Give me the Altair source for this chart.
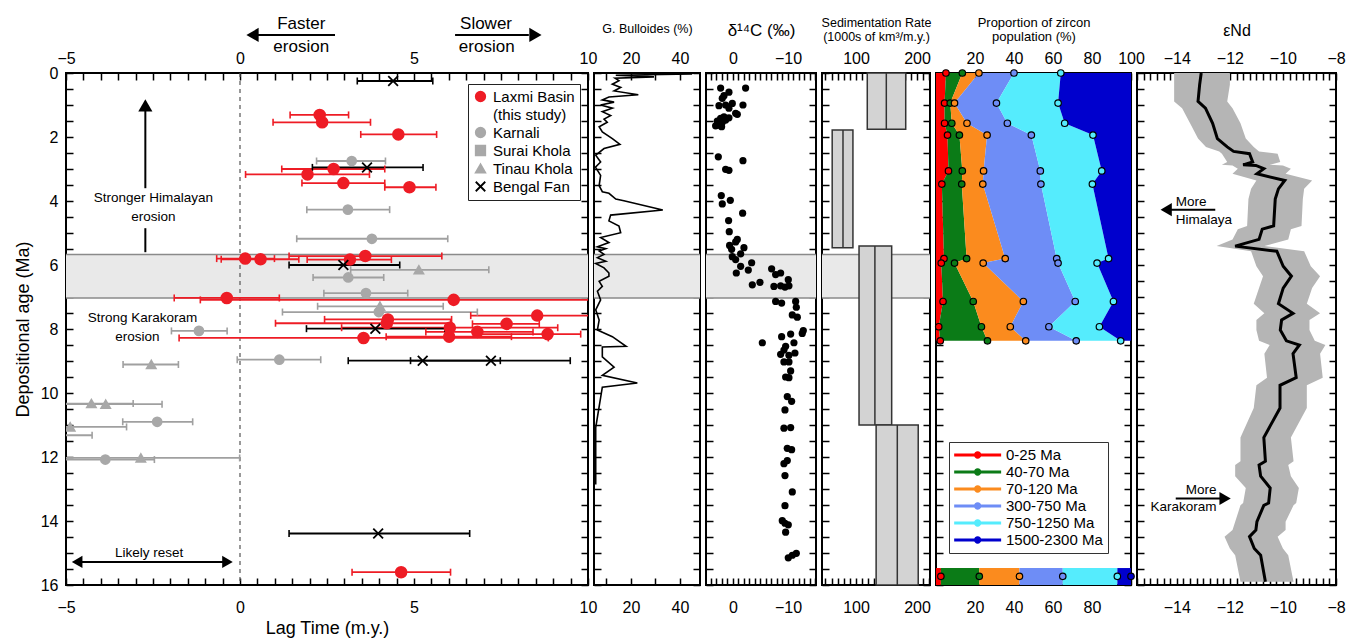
import altair as alt
import pandas as pd

FONT = "Liberation Sans"
H = 512
W = [522, 106, 110, 108, 195, 199]

BAND = [5.67, 7.03]

# ---------------- Panel 1: lag time ----------------
LT_SRC = (["Karnali"] * 10 + ["Tinau Khola"] * 7 + ["Surai Khola"] + ["Laxmi Basin"] * 23 + ["Bengal Fan"] * 7)
LT_AGE = [2.75, 4.27, 5.18, 6.39, 6.88, 7.47, 8.06, 8.96, 10.90, 12.08,
          6.15, 7.29, 9.11, 10.33, 10.35, 11.06, 12.03,
          11.32,
          1.31, 1.54, 1.92, 3.00, 3.17, 3.44, 3.57, 5.80, 5.82, 5.72, 5.83, 7.03, 7.09, 7.58, 7.70, 7.82,
          7.84, 7.96, 8.09, 8.24, 8.16, 8.28, 15.60,
          0.25, 2.95, 6.00, 7.99, 8.99, 8.99, 14.39]
LT_LAG = [3.21, 3.10, 3.79, 3.11, 3.62, 3.99, -1.18, 1.13, -2.38, -3.87,
          5.14, 4.02, -2.55, -4.27, -3.86, -4.88, -2.85,
          -5.6,
          2.29, 2.36, 4.55, 2.69, 1.94, 2.97, 4.87, 0.15, 0.59, 3.60, 3.16, -0.38, 6.14, 8.54, 4.25, 4.22,
          7.66, 6.03, 6.82, 6.01, 8.84, 3.55, 4.63,
          4.40, 3.65, 2.97, 3.89, 5.25, 7.21, 3.97]
LT_LO = [2.20, 1.92, 1.63, 2.10, 2.41, 1.22, -1.97, -0.08, -3.37, -5.50,
         3.18, 2.23, -3.36, -5.50, -5.50, -5.50, -5.50,
         -6.50,
         1.44, 0.95, 3.47, 1.20, 0.16, 1.78, 4.16, -0.67, -0.54, 1.41, 1.93, -1.89, -1.14, 6.63, 2.43, 1.02,
         6.68, 2.92, 5.34, 4.20, 6.71, -1.75, 3.22,
         3.37, 2.08, 1.41, 1.91, 3.11, 4.90, 1.41]
LT_HI = [4.18, 4.30, 5.97, 4.13, 4.82, 6.82, -0.37, 2.32, -1.36, -2.46,
         7.15, 5.84, -1.77, -3.07, -2.24, -3.26, -0.01,
         -4.25,
         3.12, 3.75, 5.65, 4.16, 3.72, 4.16, 5.63, 0.99, 1.69, 5.80, 4.35, 1.13, 10.50, 10.50, 6.08, 6.05,
         8.60, 9.13, 8.42, 7.80, 9.79, 8.86, 6.05,
         5.54, 5.26, 4.59, 5.89, 7.48, 9.49, 6.60]

SRC_DOM = ["Laxmi Basin", "(this study)", "Karnali", "Surai Khola", "Tinau Khola", "Bengal Fan"]
RED = "#ee1c25"
GREY = "#a8a8a8"
SRC_COL = [RED, "transparent", GREY, GREY, GREY, "black"]
XPATH = "M-1,-1L1,1M1,-1L-1,1"
SRC_SHAPE = ["circle", "circle", "circle", "square", "triangle-up", XPATH]
SRC_SIZE = {"Laxmi Basin": 115, "Karnali": 80, "Surai Khola": 70, "Tinau Khola": 80, "Bengal Fan": 95}
ERR_COL = {"Laxmi Basin": RED, "Karnali": "#a0a0a0", "Surai Khola": "#a0a0a0", "Tinau Khola": "#a0a0a0",
           "Bengal Fan": "black"}

# ---------------- Panel 2: G. bulloides ----------------
BUL_AGE = [0.03, 0.07, 0.12, 0.16, 0.24, 0.35, 0.45, 0.56, 0.68, 0.75, 0.84, 0.91, 1.00, 1.10, 1.21, 1.33,
           1.44, 1.54, 1.68, 1.84, 2.05, 2.23, 2.36, 2.57, 2.78, 2.94, 3.20, 3.52, 3.71, 3.76, 3.94, 3.99,
           4.28, 4.44, 4.62, 4.78, 4.99, 5.14, 5.30, 5.43, 5.49, 5.56, 5.67, 5.77, 5.88, 5.95, 6.09, 6.25,
           6.35, 6.51, 6.67, 6.82, 7.09, 7.40, 7.72, 8.03, 8.24, 8.54, 8.56, 8.87, 9.19, 9.45, 9.69, 9.82,
           11.08, 11.23, 12.86]
BUL_VAL = [45.0, 13.8, 29.4, 13.5, 15.1, 12.4, 15.8, 13.1, 23.0, 11.0, 8.3, 13.1, 7.6, 12.4, 8.3, 11.7,
           9.0, 10.3, 7.0, 8.3, 12.4, 15.5, 9.0, 5.6, 7.6, 5.5, 7.6, 7.0, 8.3, 11.0, 13.8, 17.1,
           33.0, 11.7, 11.0, 15.1, 15.8, 7.6, 11.0, 6.3, 9.7, 7.0, 9.0, 6.3, 9.7, 5.6, 9.0, 11.0,
           11.0, 7.0, 8.3, 6.3, 7.6, 5.6, 7.0, 6.3, 12.4, 18.0, 8.3, 8.3, 13.1, 8.3, 22.6, 8.3,
           5.6, 5.6, 5.6]

# ---------------- Panel 3: carbon isotopes ----------------
C_AGE = [0.47, 0.47, 0.60, 0.71, 0.79, 1.02, 1.00, 0.95, 1.00, 1.10, 1.26, 1.29, 1.37, 1.42, 1.40, 1.50,
         1.54, 1.47, 1.63, 1.65, 1.68, 2.62, 2.74, 3.01, 3.04, 3.83, 3.98, 4.09, 4.38, 4.61, 4.96, 5.20,
         5.28, 5.39, 5.46, 5.51, 5.65, 5.74, 5.83, 5.93, 6.04, 6.25, 6.16, 6.12, 6.25, 6.30, 6.46, 6.62,
         6.54, 6.67, 6.65, 6.65, 6.69, 7.14, 7.19, 7.14, 7.32, 7.56, 7.63,
         8.43, 8.24, 8.16, 8.14, 8.05, 8.54, 8.43, 8.79, 8.66, 8.82, 8.75, 9.03, 9.03, 9.31, 9.50, 9.52,
         10.11, 10.26, 10.53, 11.10, 11.08, 11.73, 11.77, 12.11, 12.21, 12.58, 13.09, 13.52, 13.99, 14.07,
         14.12, 14.35, 15.15, 15.07, 15.01]
C_VAL = [2.24, -2.30, 0.73, 1.63, 1.94, 2.54, 1.33, 0.12, -1.82, 0.73, -0.49, -0.79, 1.63, 2.24, 0.73, 2.85,
         1.94, 1.33, 2.54, 3.15, 2.06, 2.66, -1.82, 1.33, 0.73, 2.12, 0.48, 1.94, -1.76, 0.79, 0.67, -0.79,
         -0.49, 0.61, -2.00, 0.24, -1.40, 0.12, -0.49, -3.40, -1.40, -0.61, -2.79, -7.03, -8.67, -7.76, -10.06, -3.52,
         -4.91, -7.45, -8.67, -10.18, -9.46, -7.76, -8.85, -11.40, -11.52, -10.79, -11.70,
         -5.34, -8.85, -10.49, -12.60, -12.79, -9.58, -11.09, -8.67, -9.27, -10.18, -11.27, -9.27, -10.18, -10.49, -9.58, -10.18,
         -9.88, -10.67, -9.46, -9.27, -10.49, -9.88, -10.67, -9.88, -9.27, -9.46, -10.79, -9.46, -8.97, -9.46,
         -10.06, -9.58, -10.06, -10.79, -11.52]

# ---------------- Panel 4: sedimentation rate ----------------
SED_TOP = [0.0, 1.78, 5.41, 11.0]
SED_BOT = [1.76, 5.46, 11.0, 16.0]
SED_LO = [118.5, 61.0, 105.0, 133.0]
SED_HI = [181.5, 95.0, 158.5, 202.0]
SED_MID = [149.7, 78.7, 131.0, 167.7]

# ---------------- Panel 5: zircon populations (cumulative %) ----------------
GRPS = ["0-25 Ma", "40-70 Ma", "70-120 Ma", "300-750 Ma", "750-1250 Ma", "1500-2300 Ma"]
GCOL = ["#ff0000", "#0b7b17", "#fb8b1e", "#6e8df6", "#55ecfd", "#0000cd"]
Z_AGE = [0.0, 0.94, 1.57, 1.94, 3.06, 3.47, 5.80, 5.94, 7.14, 7.93, 8.37]
Z_C1 = [5.1, 4.4, 4.4, 5.9, 6.4, 3.0, 4.1, 2.7, 3.6, 1.4, 2.2]
Z_C2 = [13.5, 7.3, 8.1, 12.0, 13.5, 13.2, 15.7, 9.5, 19.1, 23.3, 26.4]
Z_C3 = [22.0, 9.5, 15.9, 26.2, 24.4, 24.0, 35.5, 24.2, 44.8, 38.1, 46.0]
Z_C4 = [40.0, 31.0, 36.6, 48.9, 53.5, 53.8, 61.9, 62.6, 71.4, 57.9, 71.9]
Z_C5 = [64.0, 62.6, 66.0, 80.5, 85.0, 80.2, 88.5, 82.6, 91.0, 83.8, 94.7]
ZB_AGE = 15.73
ZB_TOP = 15.47
ZB_C = [2.5, 22.2, 42.8, 65.0, 93.0]

# ---------------- Panel 6: eNd ----------------
ND_AGE = [0.00, 0.37, 0.89, 1.10, 1.57, 2.05, 2.31, 2.45, 2.52, 2.78, 2.87, 2.89, 2.99, 3.15, 3.36, 3.62,
          3.94, 4.78, 4.88, 5.20, 5.41, 5.57, 6.04, 6.35, 6.72, 7.21, 7.51, 7.72, 8.03, 8.37, 8.50, 8.77,
          9.52, 9.76, 10.47, 11.39, 12.13, 12.25, 12.60, 12.97, 13.44, 13.51, 14.02, 14.28, 14.49, 14.86,
          15.07, 15.90]
ND_VAL = [-13.08, -13.14, -13.20, -12.92, -12.65, -12.47, -12.10, -11.86, -11.26, -11.14, -11.50, -11.02,
          -10.72, -10.98, -9.93, -10.17, -10.29, -10.35, -10.78, -10.90, -11.80, -10.23, -9.99, -9.68, -9.99,
          -10.17, -9.62, -10.05, -10.10, -9.87, -9.38, -9.62, -9.50, -10.11, -10.11, -10.72, -10.66, -10.90,
          -10.84, -10.48, -10.54, -10.72, -10.98, -11.02, -11.26, -11.08, -10.84, -10.66]
ND_LO = [-14.1, -14.1, -14.1, -13.8, -13.5, -13.2, -12.9, -12.4, -12.3, -12.1, -12.3, -11.9, -11.7, -11.9,
         -11.0, -11.2, -11.3, -11.35, -11.7, -11.9, -12.5, -11.2, -11.0, -10.75, -10.9, -11.1, -10.7, -11.0,
         -11.0, -10.9, -10.5, -10.7, -10.6, -11.0, -11.1, -11.6, -11.6, -11.8, -11.8, -11.4, -11.5, -11.6,
         -11.8, -11.9, -12.2, -12.0, -11.8, -11.6]
ND_HI = [-12.0, -12.0, -12.1, -11.9, -11.6, -11.4, -11.1, -10.9, -10.2, -10.1, -10.5, -10.0, -9.7, -9.9,
         -8.9, -9.2, -9.25, -9.3, -9.7, -9.8, -10.7, -9.2, -8.95, -8.6, -8.9, -9.1, -8.6, -9.0, -9.0, -8.8,
         -8.4, -8.6, -8.5, -9.1, -9.1, -9.7, -9.6, -9.8, -9.7, -9.4, -9.5, -9.6, -9.9, -9.9, -10.2, -10.0,
         -9.8, -9.6]

# ---------------- scales ----------------
YS = alt.Scale(domain=[0, 16], reverse=True, nice=False, zero=False)
XS = [alt.Scale(domain=[-5, 10], nice=False, zero=False),
      alt.Scale(domain=[4.9, 48.2], nice=False, zero=False),
      alt.Scale(domain=[-15.1, 4.9], reverse=True, nice=False, zero=False),
      alt.Scale(domain=[44.3, 221.3], nice=False, zero=False),
      alt.Scale(domain=[0, 100], nice=False, zero=False),
      alt.Scale(domain=[-15.5, -8.0], nice=False, zero=False)]


def steps(a, b, s):
    n = int(round((b - a) / s))
    return [round(a + i * s, 4) for i in range(n + 1)]


YT = steps(0, 16, 0.5)
XT = [steps(-5, 10, 0.5), [10, 20, 30, 40], steps(-15, 4, 1), steps(50, 220, 10), steps(0, 100, 5),
      steps(-15.5, -8, 0.25)]

BOT_PAD = 14
TOP_PAD = 7


def lab_expr(labs):
    parts = []
    for v in labs:
        s = str(abs(int(v)))
        if v < 0:
            s = "\u2212" + s
        parts.append("abs(datum.value - (%s)) < 0.001 ? '%s'" % (v, s))
    return " : ".join(parts) + " : ''"


def axis(orient, vals, labs=None, lpad=8, title=None, tsize=16, tpad=6, tlh=None):
    a = dict(orient=orient, values=vals, tickSize=7, offset=-7, domain=False, grid=False, ticks=True,
             tickColor="black", tickWidth=1.5, labelFont=FONT, labelFontSize=16, labelColor="black",
             labelOverlap=False, labelFlush=False, labelBound=False)
    if labs is None:
        a["labels"] = False
    else:
        a["labelExpr"] = lab_expr(labs)
        a["labelPadding"] = lpad
    if title is None:
        a["title"] = None
    else:
        a.update(title=title, titleFont=FONT, titleFontSize=tsize, titleFontWeight="normal",
                 titleColor="black", titlePadding=tpad)
        if tlh:
            a["titleLineHeight"] = tlh
    return alt.Axis(**a)


def Y(f):
    return alt.Y(f, scale=YS, axis=None)


def carriers(i, xb, xt, yl, yr):
    dom = XS[i].to_dict()["domain"]
    df = pd.DataFrame({"cx": dom, "cy": [0, 16]})
    base = alt.Chart(df).mark_point(opacity=0)
    c1 = base.encode(x=alt.X("cx:Q", scale=XS[i], axis=xb), y=alt.Y("cy:Q", scale=YS, axis=yl))
    c2 = base.encode(x=alt.X("cx:Q", scale=XS[i], axis=xt), y=alt.Y("cy:Q", scale=YS, axis=yr))
    return [c1, c2]


band_df = pd.DataFrame({"b1": [BAND[0]], "b2": [BAND[1]]})
band_ln = pd.DataFrame({"b": BAND})


def band(w):
    r = alt.Chart(band_df).mark_rect(color="#e9e9e9").encode(
        x=alt.value(0), x2=alt.value(w), y=Y("b1:Q"), y2="b2:Q")
    l = alt.Chart(band_ln).mark_rule(color="#8a8a8a", strokeWidth=1.5).encode(
        x=alt.value(0), x2=alt.value(w), y=Y("b:Q"))
    return [r, l]


YR = axis("right", YT)

# ---------------- Panel 1 build ----------------
lag_df = pd.DataFrame({"src": LT_SRC, "age": LT_AGE, "lag": LT_LAG, "lo": LT_LO, "hi": LT_HI})
lag_df["col"] = lag_df["src"].map(ERR_COL)
lag_df["sz"] = lag_df["src"].map(SRC_SIZE)
X1 = XS[0]

zero_df = pd.DataFrame({"z": [0]})
zero = alt.Chart(zero_df).mark_rule(color="#555555", strokeDash=[4, 4], strokeWidth=1.2).encode(
    x=alt.X("z:Q", scale=X1, axis=None))
ebar = alt.Chart(lag_df).mark_rule(strokeWidth=1.8, clip=True).encode(
    x=alt.X("lo:Q", scale=X1, axis=None), x2="hi:Q", y=Y("age:Q"), stroke=alt.Stroke("col:N", scale=None))
caps = alt.Chart(lag_df).transform_fold(["lo", "hi"], as_=["k", "v"]).mark_tick(
    orient="vertical", size=7, thickness=1.6, opacity=1, clip=True).encode(
    x=alt.X("v:Q", scale=X1, axis=None), y=Y("age:Q"), color=alt.Color("col:N", scale=None))
lg1 = alt.Legend(title=None, orient="none", legendX=402, legendY=11, strokeColor="#222222", padding=5,
                 fillColor="white", labelFont=FONT, labelFontSize=15, labelColor="black", symbolSize=90,
                 symbolStrokeWidth=1.8, rowPadding=1, labelOffset=5)
pts1 = alt.Chart(lag_df).mark_point(opacity=1, strokeWidth=1.8, clip=True).encode(
    x=alt.X("lag:Q", scale=X1, axis=None), y=Y("age:Q"),
    fill=alt.Fill("src:N", scale=alt.Scale(domain=SRC_DOM, range=SRC_COL), legend=lg1),
    stroke=alt.Stroke("src:N", scale=alt.Scale(domain=SRC_DOM, range=SRC_COL), legend=lg1),
    shape=alt.Shape("src:N", scale=alt.Scale(domain=SRC_DOM, range=SRC_SHAPE), legend=lg1),
    size=alt.Size("sz:Q", scale=None))

ann1 = pd.DataFrame({
    "x": [1.76, 1.76, 7.07, 7.09, -2.49, -2.49, -2.8, -2.95, -2.61],
    "y": [-1.53, -0.81, -1.53, -0.81, 3.9, 4.5, 7.67, 8.25, 15.0],
    "t": ["Faster", "erosion", "Slower", "erosion", "Stronger Himalayan", "erosion", "Strong Karakoram",
          "erosion", "Likely reset"],
    "fs": [17, 17, 17, 17, 13.5, 13.5, 13.5, 13.5, 13.5]})
txt1 = alt.Chart(ann1).mark_text(font=FONT, color="black", baseline="middle", align="center").encode(
    x=alt.X("x:Q", scale=X1, axis=None), y=Y("y:Q"), text="t:N", size=alt.Size("fs:Q", scale=None))
arr1 = pd.DataFrame({"x": [0.4, 6.18, -2.72, -2.72, -4.65], "x2": [2.73, 8.3, -2.72, -2.72, -0.4],
                     "y": [-1.19, -1.19, 1.1, 4.85, 15.28], "y2": [-1.19, -1.19, 3.6, 5.6, 15.28]})
lines1 = alt.Chart(arr1).mark_rule(color="black", strokeWidth=2).encode(
    x=alt.X("x:Q", scale=X1, axis=None), x2="x2:Q", y=Y("y:Q"), y2="y2:Q")
head1 = pd.DataFrame({"x": [0.36, 8.49, -2.72, -4.68, -0.36], "y": [-1.19, -1.19, 1.01, 15.28, 15.28],
                      "s": ["triangle-left", "triangle-right", "triangle-up", "triangle-left", "triangle-right"],
                      "sz": [200, 200, 200, 150, 150]})
heads1 = alt.Chart(head1).mark_point(filled=True, color="black", opacity=1).encode(
    x=alt.X("x:Q", scale=X1, axis=None), y=Y("y:Q"), shape=alt.Shape("s:N", scale=None),
    size=alt.Size("sz:Q", scale=None))

c1 = carriers(0,
              axis("bottom", XT[0], [-5, 0, 5, 10], lpad=BOT_PAD, title="Lag Time (m.y.)", tsize=18, tpad=4),
              axis("top", XT[0], [-5, 0, 5, 10], lpad=TOP_PAD),
              axis("left", YT, [0, 2, 4, 6, 8, 10, 12, 14, 16], lpad=8, title="Depositional age (Ma)",
                   tsize=18, tpad=8),
              YR)
p1 = alt.layer(*band(W[0]), zero, ebar, caps, pts1, lines1, heads1, txt1, *c1).resolve_axis(
    x="independent", y="independent").properties(width=W[0], height=H)

# ---------------- Panel 2 build ----------------
bul = pd.DataFrame({"age": BUL_AGE, "v": BUL_VAL})
line2 = alt.Chart(bul).mark_line(color="black", strokeWidth=1.6, clip=True).encode(
    x=alt.X("v:Q", scale=XS[1], axis=None), y=Y("age:Q"), order="age:Q")
c2 = carriers(1, axis("bottom", XT[1], [20, 40], lpad=BOT_PAD),
              axis("top", XT[1], [20, 40], lpad=TOP_PAD, title="G. Bulloides (%)", tsize=12.5, tpad=15),
              axis("left", YT), YR)
p2 = alt.layer(*band(W[1]), line2, *c2).resolve_axis(x="independent", y="independent").properties(
    width=W[1], height=H)

# ---------------- Panel 3 build ----------------
cdf = pd.DataFrame({"age": C_AGE, "v": C_VAL})
pts3 = alt.Chart(cdf).mark_circle(color="black", size=52, opacity=1).encode(
    x=alt.X("v:Q", scale=XS[2], axis=None), y=Y("age:Q"))
c3 = carriers(2, axis("bottom", XT[2], [0, -10], lpad=BOT_PAD),
              axis("top", XT[2], [0, -10], lpad=TOP_PAD, title="δ¹⁴C (‰)", tsize=17, tpad=11),
              axis("left", YT), YR)
p3 = alt.layer(*band(W[2]), pts3, *c3).resolve_axis(x="independent", y="independent").properties(
    width=W[2], height=H)

# ---------------- Panel 4 build ----------------
sdf = pd.DataFrame({"t": SED_TOP, "b": SED_BOT, "lo": SED_LO, "hi": SED_HI, "m": SED_MID})
rect4 = alt.Chart(sdf).mark_rect(fill="#d3d3d3", stroke="#333333", strokeWidth=1.5).encode(
    x=alt.X("lo:Q", scale=XS[3], axis=None), x2="hi:Q", y=Y("t:Q"), y2="b:Q")
mid4 = alt.Chart(sdf).mark_rule(color="#333333", strokeWidth=1.5).encode(
    x=alt.X("m:Q", scale=XS[3], axis=None), y=Y("t:Q"), y2="b:Q")
c4 = carriers(3, axis("bottom", XT[3], [100, 200], lpad=BOT_PAD),
              axis("top", XT[3], [100, 200], lpad=TOP_PAD, title=["Sedimentation Rate", "(1000s of km³/m.y.)"],
                   tsize=12.5, tpad=7, tlh=13.5),
              axis("left", YT), YR)
p4 = alt.layer(*band(W[3]), rect4, mid4, *c4).resolve_axis(x="independent", y="independent").properties(
    width=W[3], height=H)

# ---------------- Panel 5 build ----------------
rows, prow = [], []
for i, a in enumerate(Z_AGE):
    e = [0, Z_C1[i], Z_C2[i], Z_C3[i], Z_C4[i], Z_C5[i], 100]
    for g in range(6):
        rows.append(dict(age=a, grp=GRPS[g], lo=e[g], hi=e[g + 1]))
    for g in range(5):
        prow.append(dict(age=a, v=e[g + 1], col=GCOL[g]))
eb_ = [0] + ZB_C + [100]
srows = [dict(t=ZB_TOP, b=16, lo=eb_[g], hi=eb_[g + 1], col=GCOL[g]) for g in range(6)]
for g in range(6):
    prow.append(dict(age=ZB_AGE, v=eb_[g + 1], col=GCOL[g]))
zdf = pd.DataFrame(rows)
zp = pd.DataFrame(prow)
zs = pd.DataFrame(srows)
LEGPATH = ("M-1,-0.19L5,-0.19L5,0.19L-1,0.19Z"
           "M1.53,0A0.47,0.47 0 1,1 2.47,0A0.47,0.47 0 1,1 1.53,0Z")
lg5 = alt.Legend(title=None, orient="none", legendX=13, legendY=369, strokeColor="#333333", padding=5,
                 fillColor="white", labelFont=FONT, labelFontSize=15, labelColor="black", symbolType=LEGPATH,
                 symbolSize=245, symbolStrokeWidth=0, rowPadding=1, labelOffset=36)
area5 = alt.Chart(zdf).mark_area(orient="horizontal", opacity=1).encode(
    y=Y("age:Q"), x=alt.X("lo:Q", scale=XS[4], axis=None, stack=None), x2="hi:Q",
    fill=alt.Fill("grp:N", scale=alt.Scale(domain=GRPS, range=GCOL), legend=lg5))
strip5 = alt.Chart(zs).mark_rect().encode(
    x=alt.X("lo:Q", scale=XS[4], axis=None), x2="hi:Q", y=Y("t:Q"), y2="b:Q",
    fill=alt.Fill("col:N", scale=None))
pts5 = alt.Chart(zp).mark_point(filled=True, size=42, stroke="black", strokeWidth=1.2, opacity=1).encode(
    x=alt.X("v:Q", scale=XS[4], axis=None), y=Y("age:Q"), fill=alt.Fill("col:N", scale=None))
c5 = carriers(4, axis("bottom", XT[4], [20, 40, 60, 80], lpad=BOT_PAD),
              axis("top", XT[4], [20, 40, 60, 80, 100], lpad=TOP_PAD,
                   title=["Proportion of zircon", "population (%)"], tsize=13, tpad=7, tlh=14),
              axis("left", YT), YR)
p5 = alt.layer(area5, strip5, pts5, *c5).resolve_axis(x="independent", y="independent").properties(
    width=W[4], height=H)

# ---------------- Panel 6 build ----------------
nd = pd.DataFrame({"age": ND_AGE, "v": ND_VAL, "lo": ND_LO, "hi": ND_HI})
X6 = XS[5]
band6 = alt.Chart(nd).mark_area(orient="horizontal", color="#b5b5b5", opacity=1).encode(
    y=Y("age:Q"), x=alt.X("lo:Q", scale=X6, axis=None, stack=None), x2="hi:Q")
line6 = alt.Chart(nd).mark_line(color="black", strokeWidth=3).encode(
    x=alt.X("v:Q", scale=X6, axis=None), y=Y("age:Q"), order="age:Q")
t6l = pd.DataFrame({"x": [-14.04, -14.04], "y": [4.04, 4.6], "t": ["More", "Himalaya"]})
t6r = pd.DataFrame({"x": [-12.5, -12.5], "y": [13.02, 13.55], "t": ["More", "Karakoram"]})
txt6l = alt.Chart(t6l).mark_text(font=FONT, fontSize=13.5, align="left", baseline="middle", color="black").encode(
    x=alt.X("x:Q", scale=X6, axis=None), y=Y("y:Q"), text="t:N")
txt6r = alt.Chart(t6r).mark_text(font=FONT, fontSize=13.5, align="right", baseline="middle", color="black").encode(
    x=alt.X("x:Q", scale=X6, axis=None), y=Y("y:Q"), text="t:N")
arr6 = pd.DataFrame({"x": [-14.4, -14.04], "x2": [-12.55, -12.2], "y": [4.27, 13.3]})
lines6 = alt.Chart(arr6).mark_rule(color="black", strokeWidth=2).encode(
    x=alt.X("x:Q", scale=X6, axis=None), x2="x2:Q", y=Y("y:Q"))
head6 = pd.DataFrame({"x": [-14.4, -12.18], "y": [4.27, 13.3], "s": ["triangle-left", "triangle-right"]})
heads6 = alt.Chart(head6).mark_point(filled=True, color="black", opacity=1, size=170).encode(
    x=alt.X("x:Q", scale=X6, axis=None), y=Y("y:Q"), shape=alt.Shape("s:N", scale=None))
c6 = carriers(5, axis("bottom", XT[5], [-14, -12, -10, -8], lpad=BOT_PAD),
              axis("top", XT[5], [-14, -12, -10, -8], lpad=TOP_PAD, title="εNd", tsize=16, tpad=12),
              axis("left", YT), YR)
p6 = alt.layer(band6, line6, lines6, heads6, txt6l, txt6r, *c6).resolve_axis(
    x="independent", y="independent").properties(width=W[5], height=H)

chart = alt.hconcat(p1, p2, p3, p4, p5, p6, spacing=6, bounds="flush").resolve_scale(
    fill="independent", stroke="independent", shape="independent").properties(
    padding={"left": 13, "top": 14, "right": 0, "bottom": 0}).configure(font=FONT).configure_view(
    stroke="black", strokeWidth=2)

chart.save("out.html", embed_options={"renderer": "svg", "actions": False})
